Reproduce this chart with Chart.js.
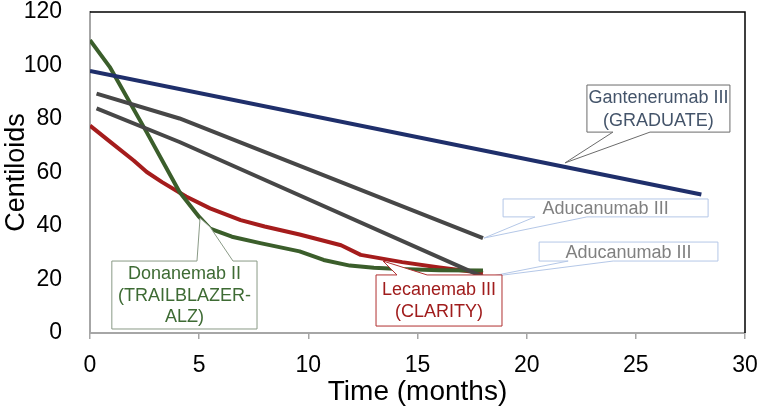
<!DOCTYPE html>
<html><head><meta charset="utf-8">
<script src="https://cdn.jsdelivr.net/npm/chart.js@4/dist/chart.umd.min.js"></script>
<style>html,body{margin:0;padding:0;background:#fff}#wrap{width:760px;height:412px}</style>
</head><body><div id="wrap"><canvas id="c" width="760" height="412"></canvas></div>
<script>
// ---- data ----
const xTickValues = [0, 5, 10, 15, 20, 25, 30];
const yTickValues = [0, 20, 40, 60, 80, 100, 120];

const ganteMonths = [0, 28];
const ganteValues = [98, 51.8];

const aduHighMonths = [0.3, 4.1, 18];
const aduHighValues = [89.5, 80.2, 35.5];

const aduLowMonths = [0.3, 4.1, 18];
const aduLowValues = [84, 71.4, 21];

const lecaMonths = [0, 1, 2, 2.6, 3.3, 4.4, 5.5, 6.9, 8, 9.6, 11.5, 12.4, 14.3, 16, 18];
const lecaValues = [77.5, 71, 64.5, 60.2, 56.4, 51, 46.6, 42.2, 39.8, 36.8, 32.8, 29.2, 26.5, 24.5, 22.4];

const donaMonths = [0, 0.9, 2.6, 4.1, 5.0, 5.5, 6.5, 7.8, 9.6, 10.7, 11.9, 13, 14.2, 16, 18];
const donaValues = [109.5, 99.5, 75, 52.7, 43.4, 39, 36, 33.6, 30.5, 27.3, 25.2, 24.4, 23.9, 23.5, 23.4];

const labelGante = ['Gantenerumab III', '(GRADUATE)'];
const labelAduHigh = ['Aducanumab III'];
const labelAduLow = ['Aducanumab III'];
const labelLeca = ['Lecanemab III', '(CLARITY)'];
const labelDona = ['Donanemab II', '(TRAILBLAZER-', 'ALZ)'];

const xTitle = 'Time (months)';
const yTitle = 'Centiloids';

// ---- build ----
const pts = (xs, ys) => xs.map((x, i) => ({x, y: ys[i]}));
const lineStyle = c => ({borderColor: c, backgroundColor: c, borderWidth: 4, pointRadius: 0, tension: 0, fill: false, borderJoinStyle: 'round'});

const FONT = "'Liberation Sans', Arial, sans-serif";

// callouts positioned in data units (box x1,y1,x2,y2; wedge base on a side; tips)
const callouts = [
  {lines: labelGante, box: [22.76, 92.7, 29.31, 75.1], side: 'bottom', base: [23.95, 25.65], tips: [[21.76, 63.6]],
   text: '#44546a', border: '#6b6b6b', lineH: 23},
  {lines: labelAduHigh, box: [18.92, 50.1, 28.31, 43.4], side: 'bottom', base: [20.38, 22.76], tips: [[18.05, 35.5]],
   text: '#808080', border: '#b4c7e7', lineH: 21},
  {lines: labelAduLow, box: [20.57, 34.0, 28.76, 26.9], side: 'bottom', base: [21.9, 23.96], tips: [[18.1, 20.8]],
   text: '#808080', border: '#b4c7e7', lineH: 21},
  {lines: labelLeca, box: [13.1, 21.7, 18.87, 2.6], side: 'top', base: [14.06, 15.44], tips: [[13.42, 26.9]],
   text: '#a01c1c', border: '#b03030', lineH: 22},
  {lines: labelDona, box: [1.0, 26.9, 7.65, 1.5], side: 'top', base: [4.9, 6.55], tips: [[5.04, 43], [5.5, 39.6]],
   text: '#3e6b34', border: '#8a9a86', lineH: 21.5}
];

const framePlugin = {
  id: 'frame',
  afterDatasetsDraw(chart) {
    const {ctx, chartArea: a} = chart;
    ctx.save();
    ctx.strokeStyle = '#000';
    ctx.lineWidth = 1.5;
    ctx.beginPath();
    ctx.moveTo(a.left, a.top);
    ctx.lineTo(a.right, a.top);
    ctx.lineTo(a.right, a.bottom);
    ctx.stroke();
    ctx.restore();
  }
};

const calloutPlugin = {
  id: 'callouts',
  afterDraw(chart) {
    const {ctx} = chart;
    const xs = chart.scales.x, ys = chart.scales.y;
    const X = v => xs.getPixelForValue(v), Y = v => ys.getPixelForValue(v);
    ctx.save();
    callouts.forEach(c => {
      const x1 = X(c.box[0]), y1 = Y(c.box[1]), x2 = X(c.box[2]), y2 = Y(c.box[3]);
      const b0 = X(c.base[0]), b1 = X(c.base[1]);
      const tips = c.tips.map(t => [X(t[0]), Y(t[1])]);
      ctx.beginPath();
      if (c.side === 'top') {
        ctx.moveTo(x1, y1);
        ctx.lineTo(b0, y1);
        tips.forEach(t => ctx.lineTo(t[0], t[1]));
        ctx.lineTo(b1, y1);
        ctx.lineTo(x2, y1);
        ctx.lineTo(x2, y2);
        ctx.lineTo(x1, y2);
        ctx.closePath();
      } else {
        ctx.moveTo(x1, y1);
        ctx.lineTo(x2, y1);
        ctx.lineTo(x2, y2);
        ctx.lineTo(b1, y2);
        tips.slice().reverse().forEach(t => ctx.lineTo(t[0], t[1]));
        ctx.lineTo(b0, y2);
        ctx.lineTo(x1, y2);
        ctx.closePath();
      }
      ctx.fillStyle = '#fff';
      ctx.fill();
      ctx.strokeStyle = c.border;
      ctx.lineWidth = 1;
      ctx.stroke();
      ctx.fillStyle = c.text;
      ctx.font = '18px ' + FONT;
      ctx.textAlign = 'center';
      ctx.textBaseline = 'middle';
      const cx = (x1 + x2) / 2, cy = (y1 + y2) / 2;
      const n = c.lines.length;
      c.lines.forEach((s, i) => ctx.fillText(s, cx, cy + (i - (n - 1) / 2) * c.lineH + 1));
    });
    ctx.restore();
  }
};

new Chart(document.getElementById('c'), {
  type: 'line',
  data: {
    datasets: [
      {label: 'Gantenerumab III', data: pts(ganteMonths, ganteValues), ...lineStyle('#1f2f6b')},
      {label: 'Aducanumab III (a)', data: pts(aduHighMonths, aduHighValues), ...lineStyle('#474747')},
      {label: 'Aducanumab III (b)', data: pts(aduLowMonths, aduLowValues), ...lineStyle('#474747')},
      {label: 'Donanemab II', data: pts(donaMonths, donaValues), ...lineStyle('#3b5e2b')},
      {label: 'Lecanemab III', data: pts(lecaMonths, lecaValues), ...lineStyle('#a51c1c')}
    ]
  },
  options: {
    responsive: false,
    animation: false,
    devicePixelRatio: 1,
    layout: {padding: {top: 12, right: 15, left: 0, bottom: 0}},
    plugins: {legend: {display: false}, tooltip: {enabled: false}},
    scales: {
      x: {
        type: 'linear', min: 0, max: 30,
        afterBuildTicks: s => { s.ticks = xTickValues.map(v => ({value: v})); },
        ticks: {font: {family: FONT, size: 23}, color: '#000', padding: 13, maxRotation: 0},
        grid: {display: true, drawOnChartArea: false, drawTicks: true, tickLength: 6, color: '#a6a6a6', lineWidth: 1.5},
        border: {display: true, color: '#a6a6a6', width: 2},
        title: {display: true, text: xTitle, font: {family: FONT, size: 28}, color: '#000', padding: {top: 0, bottom: 3}},
        afterFit: s => { s.height = 79; s.paddingLeft = 0; s.paddingRight = 0; }
      },
      y: {
        type: 'linear', min: 0, max: 120,
        afterBuildTicks: s => { s.ticks = yTickValues.map(v => ({value: v})); },
        ticks: {font: {family: FONT, size: 23}, color: '#000', padding: 20},
        grid: {display: false},
        border: {display: true, color: '#a6a6a6', width: 2},
        title: {display: true, text: yTitle, font: {family: FONT, size: 27}, color: '#000', padding: {top: 0, bottom: 0}},
        afterFit: s => { s.width = 90; s.paddingTop = 0; s.paddingBottom = 0; }
      }
    }
  },
  plugins: [framePlugin, calloutPlugin]
});
</script>
</body></html>
